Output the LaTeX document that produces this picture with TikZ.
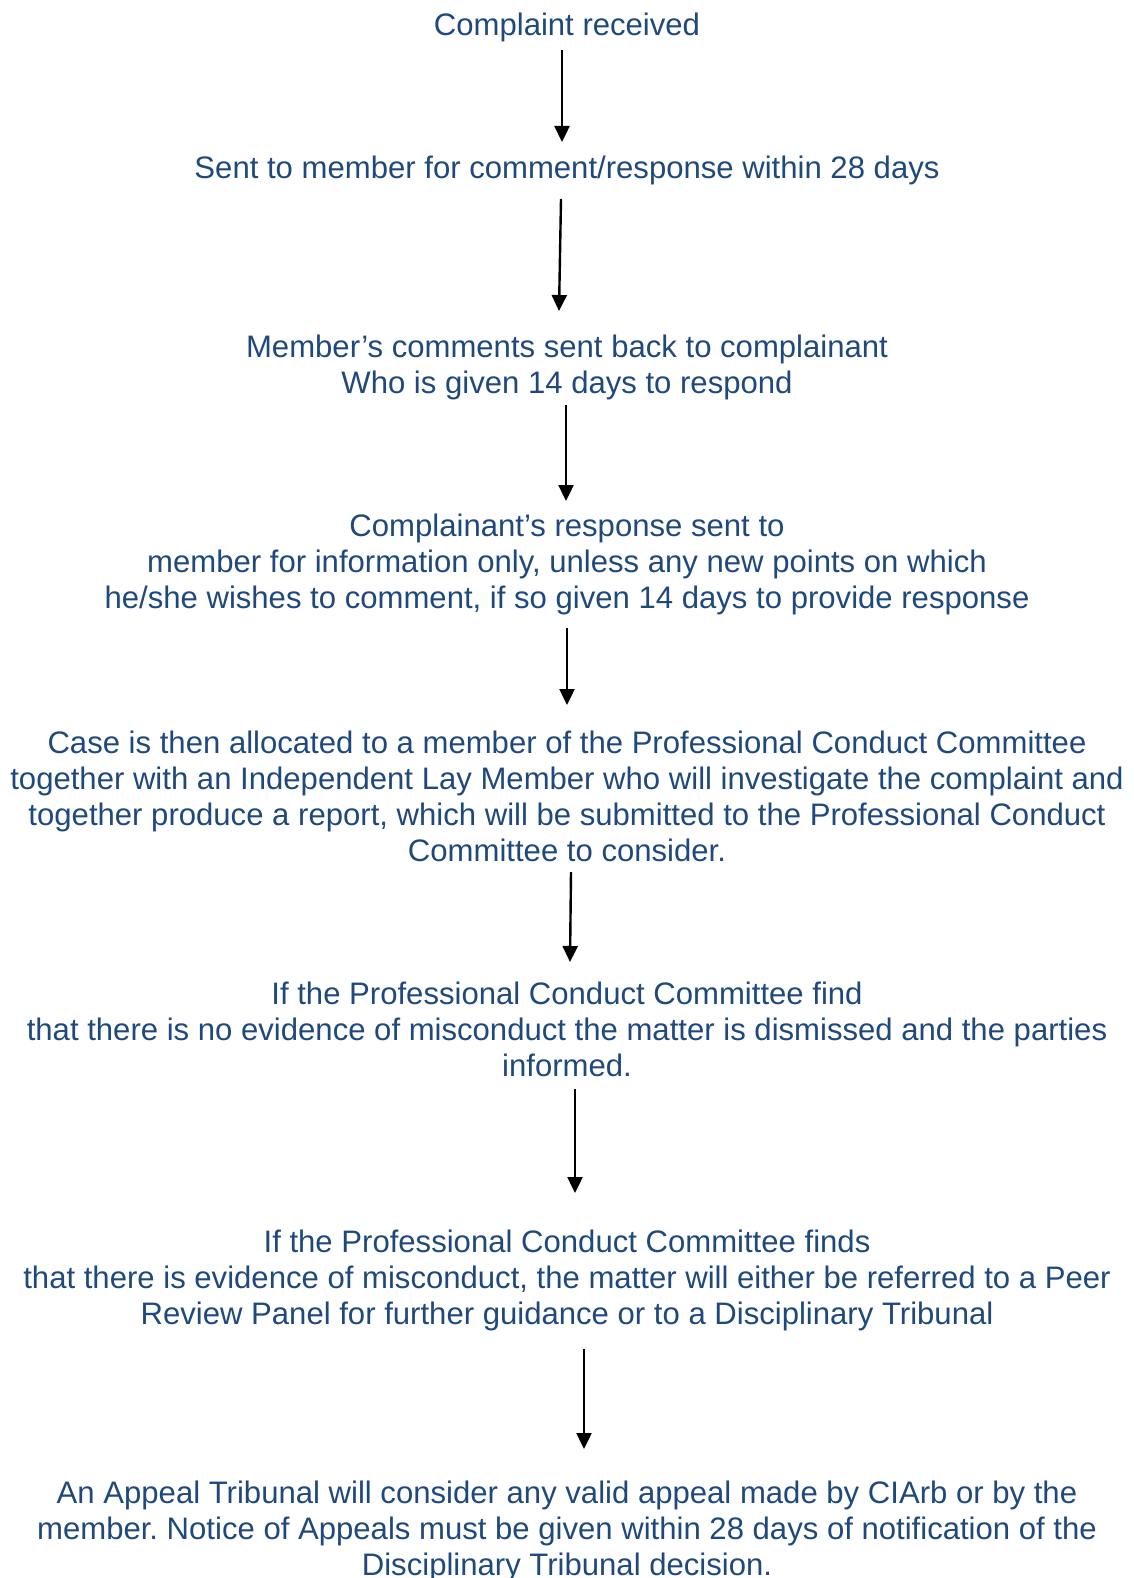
\documentclass[tikz,border=0pt]{standalone}
\usepackage{fontspec}
\setmainfont{Liberation Sans}
\usetikzlibrary{arrows.meta}
\definecolor{txtblue}{HTML}{1F497D}
\frenchspacing
\tikzset{
  stage/.style={text=txtblue, align=center, inner sep=0pt, font=\fontsize{31.1}{36}\selectfont},
  arr/.style={line width=2.4pt, -{Triangle[width=15pt,length=16pt]}}
}
\begin{document}
\begin{tikzpicture}[x=1pt,y=-1pt]
\useasboundingbox (0,0) rectangle (1133,1578);
\node[stage] (n1) at (567,27) {Complaint received};
\node[stage] (n2) at (567,170) {Sent to member for comment/response within 28 days};
\node[stage] (n3) at (567,367) {Member’s comments sent back to complainant\\Who is given 14 days to respond};
\node[stage] (n4) at (567,564) {Complainant’s response sent to\\member for information only, unless any new points on which\\he/she wishes to comment, if so given 14 days to provide response};
\node[stage] (n5) at (567,796) {Case is then allocated to a member of the Professional Conduct Committee\\together with an Independent Lay Member who will investigate the complaint and\\together produce a report, which will be submitted to the Professional Conduct\\Committee to consider.};
\node[stage] (n6) at (567,1029) {If the Professional Conduct Committee find\\that there is no evidence of misconduct the matter is dismissed and the parties\\informed.};
\node[stage] (n7) at (567,1280) {If the Professional Conduct Committee finds\\that there is evidence of misconduct, the matter will either be referred to a Peer\\Review Panel for further guidance or to a Disciplinary Tribunal};
\node[stage] (n8) at (567,1531) {An Appeal Tribunal will consider any valid appeal made by CIArb or by the\\member. Notice of Appeals must be given within 28 days of notification of the\\Disciplinary Tribunal decision.};
\coordinate (a1s) at (562,50);  \coordinate (a1e) at (562,142);
\coordinate (a2s) at (561,199); \coordinate (a2e) at (559,311);
\coordinate (a3s) at (566,405); \coordinate (a3e) at (566,501);
\coordinate (a4s) at (567,628); \coordinate (a4e) at (567,705);
\coordinate (a5s) at (571,872); \coordinate (a5e) at (570,962);
\coordinate (a6s) at (575,1089); \coordinate (a6e) at (575,1193);
\coordinate (a7s) at (584,1349); \coordinate (a7e) at (584,1449);
\draw[arr] (a1s) -- (a1e);
\draw[arr] (a2s) -- (a2e);
\draw[arr] (a3s) -- (a3e);
\draw[arr] (a4s) -- (a4e);
\draw[arr] (a5s) -- (a5e);
\draw[arr] (a6s) -- (a6e);
\draw[arr] (a7s) -- (a7e);
\end{tikzpicture}
\end{document}
